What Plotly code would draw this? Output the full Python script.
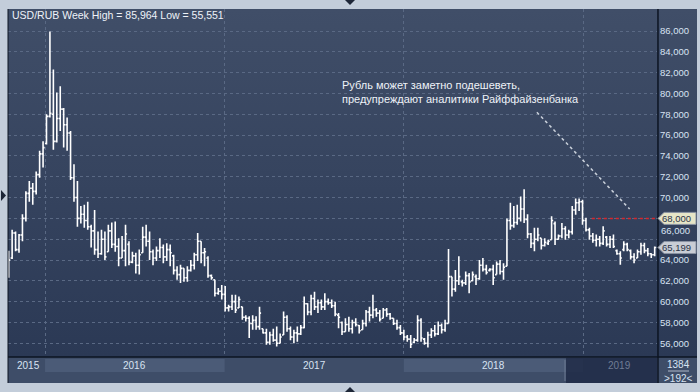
import base64
import pandas as pd
import plotly.graph_objects as go

# ---------------- data (weekly USD/RUB bars) ----------------
first_week = "2015-10-19"

bar_open = [
    64.0, 64.2, 66.6, 65.0, 66.4, 68.0, 70.4, 70.9, 70.6, 72.2, 74.2, 75.2, 77.8, 78.0, 75.4, 77.6,
    78.5, 77.0, 76.2, 71.9, 70.0, 68.0, 68.4, 67.8, 67.2, 66.8, 65.0, 64.6, 66.0, 64.8, 66.8, 65.5,
    65.3, 64.2, 64.9, 65.5, 63.8, 64.4, 63.5, 64.7, 66.2, 65.8, 64.8, 64.2, 64.9, 65.2, 64.3, 65.0,
    64.4, 63.0, 62.6, 63.2, 62.3, 63.0, 63.5, 64.5, 65.8, 64.7, 64.2, 62.5, 62.1, 60.8, 61.0, 60.7,
    59.4, 59.5, 60.0, 59.4, 59.5, 58.5, 58.4, 57.9, 58.2, 57.6, 57.4, 57.0, 56.1, 56.8, 56.3, 56.0,
    56.8, 58.5, 57.4, 56.6, 57.0, 56.9, 57.5, 59.8, 59.0, 60.3, 59.5, 59.9, 59.5, 60.0, 59.9, 59.6,
    58.7, 58.0, 57.1, 57.8, 57.4, 58.0, 57.7, 57.3, 57.9, 59.0, 58.7, 59.2, 58.9, 58.4, 59.2, 58.8,
    58.4, 57.9, 57.5, 57.0, 56.6, 56.4, 56.1, 56.3, 58.2, 56.4, 56.0, 56.8, 57.2, 56.9, 57.7, 57.3,
    57.9, 62.4, 61.2, 62.0, 61.9, 61.8, 62.5, 62.0, 62.4, 62.2, 63.5, 63.1, 63.0, 63.1, 62.6, 63.6,
    62.9,
    63.4, 67.8, 67.3, 67.6, 68.0, 68.9, 67.9, 66.5, 65.6, 66.0, 66.1, 65.4, 65.6, 65.95, 67.5, 66.0,
    66.3, 67.0, 66.4, 66.7, 68.8, 69.5, 69.6, 67.8, 66.9, 66.3, 65.9, 66.0, 65.6, 66.2, 65.5, 66.0,
    64.9, 64.6, 65.0, 65.5, 64.9, 64.3, 64.2, 64.8, 65.4, 64.9, 64.6, 64.5,
]
bar_high = [
    64.9, 66.9, 66.75, 66.5, 68.4, 70.6, 71.6, 71.4, 72.5, 74.5, 75.4, 78.0, 85.964, 82.3, 80.1, 80.7,
    78.6, 77.7, 76.4, 73.2, 71.6, 69.2, 69.3, 69.6, 67.4, 68.8, 66.75, 66.9, 66.75, 67.4, 67.6, 67.7,
    66.1, 66.3, 67.4, 65.8, 64.8, 64.7, 65.0, 67.2, 67.4, 66.75, 65.0, 65.3, 66.1, 65.5, 65.6, 65.5,
    64.5, 63.4, 63.55, 63.2, 63.4, 64.0, 64.7, 66.6, 65.8, 65.15, 64.35, 62.6, 62.1, 61.3, 61.6, 61.5,
    59.7, 60.65, 60.65, 60.5, 59.5, 58.7, 58.6, 58.7, 58.6, 59.5, 57.4, 57.4, 57.1, 57.4, 57.6, 56.95,
    59.05, 58.7, 57.6, 57.3, 57.6, 57.75, 60.5, 59.85, 60.65, 60.95, 60.2, 60.2, 60.8, 60.3, 60.2, 60.0,
    58.9, 58.1, 58.4, 58.55, 58.25, 58.4, 57.75, 58.25, 59.2, 59.5, 60.65, 59.4, 59.2, 59.4, 59.4, 58.9,
    58.4, 58.25, 57.75, 57.3, 56.8, 56.8, 56.5, 58.7, 58.4, 56.5, 57.1, 57.45, 57.75, 58.1, 57.9, 58.25,
    65.05, 62.4, 63.05, 64.35, 62.1, 62.9, 62.75, 62.9, 62.6, 64.0, 64.2, 63.55, 63.2, 63.55, 63.85, 64.0,
    63.7,
    68.0, 69.5, 69.2, 69.3, 70.1, 70.8, 68.4, 66.6, 67.1, 67.1, 66.1, 66.1, 65.95, 68.2, 67.7, 66.45,
    67.55, 67.25, 66.9, 69.2, 69.9, 69.9, 69.8, 68.05, 67.1, 66.6, 66.45, 66.3, 67.25, 66.3, 66.3, 66.45,
    65.0, 64.85, 65.8, 65.65, 65.0, 64.65, 65.0, 65.65, 65.65, 65.15, 64.65, 65.3,
]
bar_low = [
    62.3, 64.1, 64.83, 64.7, 65.8, 67.7, 69.6, 69.3, 70.3, 71.9, 72.9, 75.1, 77.7, 74.6, 75.3, 76.4,
    74.8, 74.5, 71.7, 69.6, 67.2, 67.5, 67.1, 66.9, 65.2, 64.5, 64.2, 64.5, 64.0, 64.8, 65.15, 64.8,
    63.4, 64.2, 63.4, 63.5, 63.7, 62.7, 62.6, 64.7, 65.3, 64.0, 63.5, 63.9, 64.2, 63.7, 63.9, 63.4,
    62.6, 62.1, 61.8, 61.9, 61.9, 62.9, 63.1, 63.9, 63.7, 63.4, 62.3, 62.1, 60.5, 60.65, 60.2, 59.05,
    59.05, 59.2, 58.9, 59.4, 58.25, 58.1, 56.5, 57.3, 57.3, 57.3, 56.95, 55.85, 55.85, 56.15, 55.7, 56.0,
    56.8, 57.1, 56.3, 56.0, 56.15, 56.8, 57.45, 58.7, 58.7, 59.2, 58.9, 59.2, 59.2, 59.7, 59.4, 58.6,
    57.45, 56.8, 57.1, 57.1, 56.95, 57.6, 56.95, 57.3, 57.6, 58.1, 58.4, 58.55, 58.1, 58.4, 58.55, 58.25,
    57.75, 57.3, 56.8, 56.3, 56.15, 55.551, 56.0, 56.15, 56.15, 55.85, 55.6, 56.5, 56.65, 56.8, 56.95, 57.1,
    57.9, 60.5, 60.95, 61.6, 61.45, 61.6, 60.8, 61.95, 61.6, 62.1, 62.9, 62.6, 62.9, 61.6, 62.6, 62.6,
    62.1,
    63.4, 66.9, 67.1, 67.4, 67.7, 67.55, 66.1, 65.15, 64.85, 65.8, 65.0, 65.3, 65.45, 65.95, 65.45, 65.95,
    66.1, 65.95, 66.1, 66.45, 68.35, 68.7, 67.4, 66.75, 65.95, 65.65, 65.3, 65.3, 65.45, 65.3, 65.15, 65.15,
    64.5, 63.55, 64.85, 64.85, 64.05, 63.7, 64.2, 64.5, 64.65, 64.35, 64.2, 64.35,
]
bar_close = [
    64.0, 66.6, 65.0, 66.4, 68.0, 70.4, 70.9, 70.6, 72.2, 74.2, 74.8, 77.8, 78.1, 75.4, 77.6, 78.5,
    77.0, 76.2, 71.9, 70.0, 68.0, 68.4, 67.8, 67.2, 66.8, 65.0, 64.6, 66.0, 64.3, 66.8, 65.5, 65.3,
    64.2, 64.9, 66.5, 63.8, 64.4, 63.5, 64.5, 66.2, 65.8, 64.8, 64.2, 64.9, 65.2, 64.3, 65.0, 64.7,
    63.0, 62.6, 63.2, 62.3, 63.0, 63.5, 64.5, 65.8, 64.7, 64.8, 62.5, 62.3, 60.8, 61.0, 60.7, 59.4,
    59.5, 60.0, 59.2, 60.2, 58.5, 58.4, 57.9, 58.2, 57.6, 58.9, 57.0, 56.1, 56.8, 56.3, 56.0, 56.6,
    58.5, 57.4, 56.6, 57.0, 56.9, 57.5, 59.8, 59.0, 60.3, 59.5, 59.9, 59.5, 60.0, 59.9, 59.6, 58.8,
    58.5, 57.1, 57.8, 57.4, 58.0, 57.8, 57.2, 57.9, 59.0, 58.7, 59.2, 58.9, 58.3, 59.2, 58.8, 58.4,
    57.9, 57.5, 57.0, 56.6, 56.4, 55.9, 56.3, 58.2, 56.5, 56.0, 56.8, 57.2, 56.9, 57.7, 57.3, 57.9,
    62.4, 61.2, 62.0, 62.4, 61.8, 62.5, 61.9, 62.6, 62.2, 63.5, 63.1, 62.8, 63.1, 62.3, 63.6, 62.9,
    63.3,
    67.8, 67.3, 67.6, 68.0, 68.9, 67.9, 66.5, 65.6, 66.0, 66.4, 65.4, 65.7, 65.8, 67.8, 66.0, 66.3,
    67.0, 66.4, 66.7, 68.8, 69.5, 69.6, 67.8, 66.9, 66.3, 65.9, 66.0, 65.6, 66.8, 65.5, 66.0, 65.3,
    64.6, 64.2, 65.5, 65.0, 64.3, 64.0, 64.8, 65.4, 64.9, 64.6, 64.5, 65.199,
]

y_ticks = [56, 58, 60, 62, 64, 66, 68, 70, 72, 74, 76, 78, 80, 82, 84, 86]
x_view = ["2015-10-17 14:00", "2019-05-31 17:00"]
year_starts = ["2016-01-01", "2017-01-01", "2018-01-01", "2019-01-01"]
year_labels = ["2015", "2016", "2017", "2018", "2019"]
year_label_at = ["2015-11-28", "2016-07-02", "2017-07-02", "2018-07-02", "2019-03-17"]
target_level = 68.0
last_level = bar_close[-1]
title_text = "USD/RUB Week High = 85,964 Low = 55,551"
note_text = "Рубль может заметно подешеветь,<br>предупреждают аналитики Райффайзенбанка"
note_line = (("2018-09-29", 78.2), ("2019-04-06", 68.9))
bars_shown = "&gt;192&lt;"
counter_text = "1384"

dates = pd.date_range(start=first_week, periods=len(bar_high), freq="7D")

# ---------------- styling ----------------
FONT = "Liberation Sans"
TXT = "#d8e3f2"
GRID = "#5a6984"
PAGE = "#c3cdda"
Y_RANGE = [54.68, 88.12]

svg = ("<svg xmlns='http://www.w3.org/2000/svg' width='10' height='100' preserveAspectRatio='none'>"
       "<defs><linearGradient id='g' x1='0' y1='0' x2='0' y2='1'>"
       "<stop offset='0' stop-color='#404e68'/><stop offset='1' stop-color='#2b3955'/>"
       "</linearGradient></defs><rect width='10' height='100' fill='url(#g)'/></svg>")
bg_uri = "data:image/svg+xml;base64," + base64.b64encode(svg.encode()).decode()

fig = go.Figure()
fig.add_trace(go.Ohlc(
    x=dates, open=bar_open, high=bar_high, low=bar_low, close=bar_close,
    increasing=dict(line=dict(color="#ffffff", width=1.6)),
    decreasing=dict(line=dict(color="#ffffff", width=1.6)),
    tickwidth=0.45, hoverinfo="skip", showlegend=False,
))

W, H = 700, 392
ml, mr, mt, mb = 8, 43, 9, 35
pw, ph = W - ml - mr, H - mt - mb
right_edge = (697 - ml) / pw          # paper x of the right frame edge
tl_bottom = -(383 - (H - mb)) / ph   # paper y of the timeline bottom


def px_y(d):  # pixels -> paper height
    return d / ph


def px_x(d):
    return d / pw


shapes = []
# timeline background
shapes.append(dict(type="rect", xref="paper", yref="paper", x0=0, x1=right_edge, y0=tl_bottom, y1=0,
                   fillcolor="#3e4d68", line_width=0, layer="below"))
# highlighted years
for a, b in [(year_starts[0], year_starts[1]), (year_starts[2], year_starts[3])]:
    shapes.append(dict(type="rect", xref="x", yref="paper", x0=a, x1=b, y0=-px_y(15), y1=-px_y(2),
                       fillcolor="#4b5b77", line_width=0))
# dark box over the latest part
shapes.append(dict(type="rect", xref="paper", yref="paper", x0=px_x(566 - ml), x1=1, y0=tl_bottom, y1=-px_y(1),
                   fillcolor="rgba(30,42,70,0.82)", line_width=0))
shapes.append(dict(type="line", xref="paper", yref="paper", x0=px_x(565 - ml), x1=px_x(565 - ml),
                   y0=-px_y(24), y1=-px_y(3), line=dict(color="#6c7a92", width=1)))
# frame lines
shapes.append(dict(type="line", xref="paper", yref="paper", x0=0, x1=right_edge, y0=0, y1=0,
                   line=dict(color="#0c1422", width=1.5)))
shapes.append(dict(type="line", xref="paper", yref="paper", x0=1.0015, x1=1.0015, y0=tl_bottom, y1=1,
                   line=dict(color="#0c1422", width=1.5)))
shapes.append(dict(type="line", xref="paper", yref="paper", x0=0, x1=0, y0=tl_bottom, y1=1,
                   line=dict(color="#0c1422", width=1)))
# right-panel counter separator
shapes.append(dict(type="line", xref="paper", yref="paper", x0=px_x(668 - ml), x1=px_x(689 - ml),
                   y0=-px_y(14), y1=-px_y(14), line=dict(color="#aeb9c9", width=1)))
# target level (red dotted) and annotation pointer
shapes.append(dict(type="line", xref="x", yref="y", x0="2019-01-19", x1=x_view[1], y0=target_level, y1=target_level,
                   line=dict(color="#d8262b", width=1.5, dash="dot")))
shapes.append(dict(type="line", xref="x", yref="y", x0=note_line[0][0], y0=note_line[0][1],
                   x1=note_line[1][0], y1=note_line[1][1], line=dict(color="#c9d0da", width=1.5, dash="dot")))


# price tags on the right axis
def tag_path(v):
    half = 6.0 / (ph / (Y_RANGE[1] - Y_RANGE[0]))
    x0 = 1.0015
    x1 = x0 + px_x(6)
    x2 = right_edge - px_x(1)
    return (f"M {x0},{v} L {x1},{v + half} L {x2},{v + half} L {x2},{v - half} L {x1},{v - half} Z")


for v, col in [(target_level, "#e6e5c7"), (last_level, "#c9cdd5")]:
    shapes.append(dict(type="path", xref="paper", yref="y", path=tag_path(v), fillcolor=col,
                       line=dict(color="#8a93a3", width=1)))


# little navigator triangles on the outer frame
def tri(pts):
    s = "M " + " L ".join(f"{px_x(x - ml)},{(H - mb - y) / ph}" for x, y in pts) + " Z"
    return dict(type="path", xref="paper", yref="paper", path=s, fillcolor="#1d2637", line_width=0)


shapes.append(tri([(345, 0), (355, 0), (350, 5)]))
shapes.append(tri([(1, 190), (1, 201), (6, 195.5)]))
shapes.append(tri([(345, 392), (355, 392), (350, 387)]))

annotations = []
annotations.append(dict(text=title_text, xref="paper", yref="paper", x=px_x(2), y=(H - mb - 15) / ph,
                        xanchor="left", yanchor="middle", showarrow=False,
                        font=dict(family=FONT, size=10.5, color="#eef2f8")))
annotations.append(dict(text=note_text, xref="paper", yref="paper", x=px_x(340 - ml), y=(H - mb - 92.5) / ph,
                        xanchor="left", yanchor="middle", align="left", showarrow=False,
                        font=dict(family=FONT, size=11, color="#eef2f8")))
for lbl, pos, col in zip(year_labels, year_label_at, [TXT, TXT, TXT, TXT, "#6f7d95"]):
    annotations.append(dict(text=lbl, xref="x", yref="paper", x=pos, y=-px_y(8), xanchor="center",
                            yanchor="middle", showarrow=False, font=dict(family=FONT, size=10, color=col)))
for v in [target_level, last_level]:
    annotations.append(dict(text=f"{v:.3f}".replace(".", ","), xref="paper", yref="y", x=1.0015 + px_x(3), y=v,
                            xanchor="left", yanchor="middle", showarrow=False, borderpad=0,
                            font=dict(family=FONT, size=9.5, color="#2a3346")))
annotations.append(dict(text=counter_text, xref="paper", yref="paper", x=px_x(678 - ml), y=-px_y(7),
                        xanchor="center", yanchor="middle", showarrow=False,
                        font=dict(family=FONT, size=10, color=TXT)))
annotations.append(dict(text=bars_shown, xref="paper", yref="paper", x=px_x(678 - ml), y=-px_y(21),
                        xanchor="center", yanchor="middle", showarrow=False,
                        font=dict(family=FONT, size=10, color=TXT)))

# the 68,000 level is labelled by its tag, and 66,000 sits under the last-price tag
tick_text = [("" if t in (66, 68) else f"{t:.3f}".replace(".", ",")) for t in y_ticks]

fig.update_layout(
    width=W, height=H,
    margin=dict(l=ml, r=mr, t=mt, b=mb, pad=0),
    paper_bgcolor=PAGE, plot_bgcolor="rgba(0,0,0,0)",
    separators=",.",
    showlegend=False,
    images=[dict(source=bg_uri, xref="paper", yref="paper", x=0, y=1, sizex=right_edge, sizey=1,
                 xanchor="left", yanchor="top", sizing="stretch", layer="below")],
    xaxis=dict(type="date", range=x_view, rangeslider=dict(visible=False), showticklabels=False,
               showgrid=True, gridcolor=GRID, griddash="3px,3px", gridwidth=1,
               tickmode="array", tickvals=year_starts, zeroline=False, showline=False, ticks=""),
    yaxis=dict(side="right", range=Y_RANGE, tickmode="array", tickvals=y_ticks, ticktext=tick_text,
               showgrid=True, gridcolor=GRID, griddash="3px,3px", gridwidth=1, zeroline=False,
               showline=False, ticks="", ticklabelstandoff=2,
               tickfont=dict(family=FONT, size=9.5, color=TXT)),
    shapes=shapes, annotations=annotations,
)

# partially hidden 66,000 label peeking above the last-price tag, as in the reference
fig.add_annotation(text="66,000", xref="paper", yref="y", x=1.0015 + px_x(2), y=66.0, yshift=2,
                   xanchor="left", yanchor="bottom", showarrow=False, borderpad=0,
                   font=dict(family=FONT, size=9.5, color=TXT))

fig.write_html("out.html")
